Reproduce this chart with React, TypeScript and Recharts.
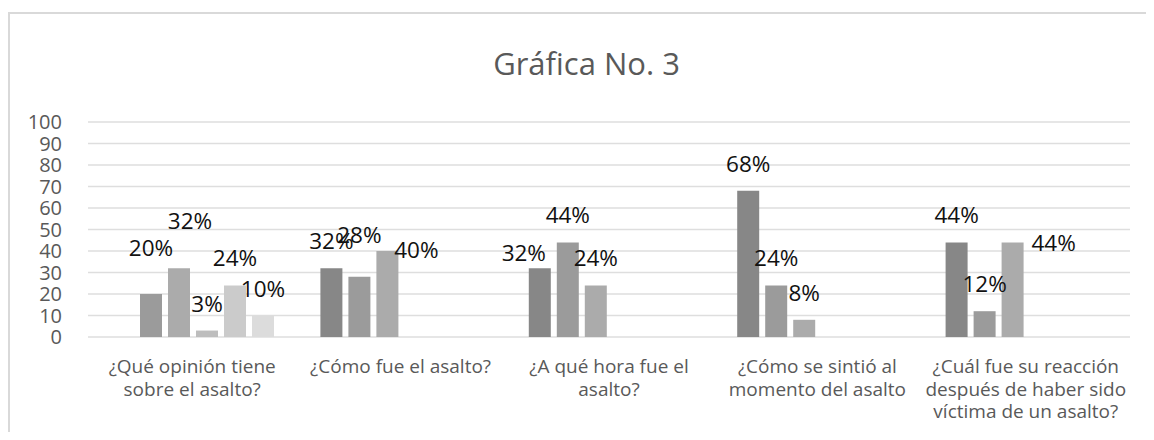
import React from "react";
import { BarChart, Bar, XAxis, YAxis, CartesianGrid, LabelList } from "recharts";

const FONT = "'Open Sans', 'Liberation Sans', sans-serif";

const categories = [
  "¿Qué opinión tiene sobre el asalto?",
  "¿Cómo fue el asalto?",
  "¿A qué hora fue el asalto?",
  "¿Cómo se sintió al momento del asalto",
  "¿Cuál fue su reacción después de haber sido víctima de un asalto?",
];

// six answer series; the first question uses slots 2-6, the others 1-3
const serie1 = [null, 32, 32, 68, 44];
const serie2 = [20, 28, 44, 24, 12];
const serie3 = [32, 40, 24, 8, 44];
const serie4 = [3, null, null, null, null];
const serie5 = [24, null, null, null, null];
const serie6 = [10, null, null, null, null];

const yTicks = [0, 10, 20, 30, 40, 50, 60, 70, 80, 90, 100];

const seriesColors = ["#878787", "#9b9b9b", "#ababab", "#bdbdbd", "#cbcbcb", "#dcdcdc"];

// hand-moved data labels in the original, [dx, dy] keyed "series-category"
const labelNudge: Record<string, [number, number]> = {
  "1-0": [0, -19],
  "2-0": [11, -20],
  "0-1": [-16, 12],
  "1-1": [0, -15],
  "2-1": [29, 26],
  "2-4": [41, 28],
};

const allSeries = [serie1, serie2, serie3, serie4, serie5, serie6];

const data = categories.map((name, i) => {
  const row: Record<string, string | number | null> = { name };
  allSeries.forEach((s, k) => {
    row[`s${k + 1}`] = s[i];
  });
  return row;
});

// greedy word wrap, roughly what fits in one category slot
function wrapWords(str: string, maxChars = 21) {
  const lines: string[] = [];
  let cur = "";
  str.split(" ").forEach((w) => {
    const next = cur ? cur + " " + w : w;
    if (next.length > maxChars && cur) {
      lines.push(cur);
      cur = w;
    } else {
      cur = next;
    }
  });
  if (cur) lines.push(cur);
  return lines;
}

function makeLabel(seriesIdx: number) {
  return (props: any) => {
    const { x, y, width, value, index } = props;
    if (value === null || value === undefined) return null;
    const [dx, dy] = labelNudge[`${seriesIdx}-${index}`] || [0, 0];
    return (
      <text
        x={Number(x) + Number(width) / 2 + dx}
        y={Number(y) - 19 + dy}
        textAnchor="middle"
        fontSize={22.5}
        fontFamily={FONT}
        fill="#111"
      >
        {`${value}%`}
      </text>
    );
  };
}

function CategoryTick(props: any) {
  const { x, y, payload } = props;
  const lines = wrapWords(String(payload.value));
  return (
    <text x={x} y={y + 14} textAnchor="middle" fill="#595959" fontSize={19} fontFamily={FONT}>
      {lines.map((l, i) => (
        <tspan key={i} x={x} dy={i === 0 ? 0 : 22.5}>
          {l}
        </tspan>
      ))}
    </text>
  );
}

export default function App() {
  return (
    <div style={{ position: "relative", width: 1146, height: 424, fontFamily: FONT }}>
      <style>{`html, body { overflow: hidden; }`}</style>
      <div
        style={{
          position: "absolute",
          left: 0,
          top: 4,
          width: 1200,
          height: 500,
          borderLeft: "2px solid #d9d9d9",
          borderTop: "2px solid #d9d9d9",
        }}
      />
      <div style={{ position: "absolute", left: 0, top: 0 }}>
        <BarChart
          width={1146}
          height={424}
          data={data}
          margin={{ top: 114, right: 24, bottom: 15, left: 0 }}
          barCategoryGap={24}
          barGap={6}
        >
          <CartesianGrid vertical={false} stroke="#dedede" strokeWidth={1.3} />
          <XAxis
            dataKey="name"
            height={80}
            axisLine={false}
            tickLine={false}
            tickMargin={16}
            interval={0}
            tick={<CategoryTick />}
          />
          <YAxis
            width={80}
            domain={[0, 100]}
            ticks={yTicks}
            interval={0}
            axisLine={false}
            tickLine={false}
            tickMargin={20}
            tick={{ fill: "#595959", fontSize: 20, fontFamily: FONT }}
          />
          {seriesColors.map((c, k) => (
            <Bar key={k} dataKey={`s${k + 1}`} fill={c} isAnimationActive={false}>
              <LabelList dataKey={`s${k + 1}`} content={makeLabel(k)} />
            </Bar>
          ))}
        </BarChart>
      </div>
      <svg
        width={1146}
        height={100}
        style={{ position: "absolute", left: 0, top: 0, pointerEvents: "none" }}
      >
        <text x={578.5} y={67} textAnchor="middle" fontSize={31} fontFamily={FONT} fill="#595959">
          Gráfica No. 3
        </text>
      </svg>
    </div>
  );
}
